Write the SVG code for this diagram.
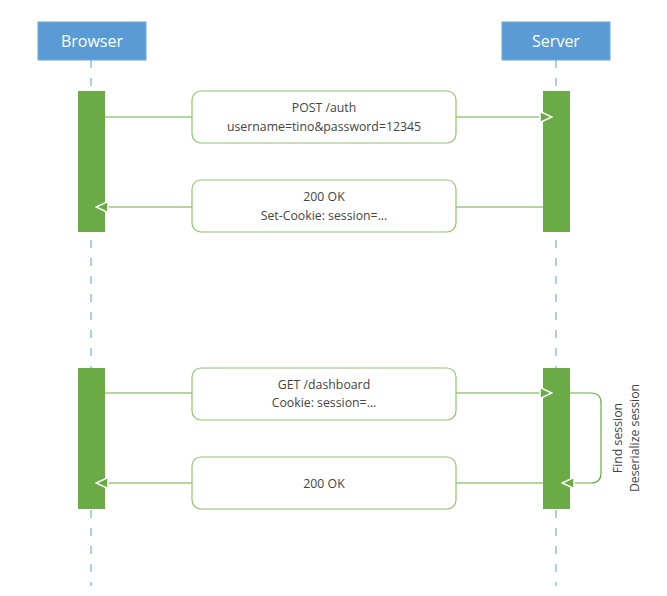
<svg xmlns="http://www.w3.org/2000/svg" width="667" height="596" viewBox="0 0 667 596">
<defs>
<style>
.hdr{fill:#5b9bd5;stroke:#6fa8dc;stroke-width:1}
.hdrt{fill:#ffffff;font-family:"Open Sans","Noto Sans",sans-serif;font-size:16px;text-anchor:middle}
.life{stroke:#5b9bd5;stroke-width:1;stroke-dasharray:8 10;fill:none}
.act{fill:#6aab45}
.msg{fill:#ffffff;stroke:#8cc66c;stroke-width:1.2}
.line{stroke:#6aab45;stroke-width:1.2;fill:none}
.t{fill:#444444;font-family:"Open Sans","Noto Sans",sans-serif;font-size:12.3px;text-anchor:middle}
</style>
<marker id="arr" viewBox="0 0 14 14" refX="13" refY="7" markerWidth="14" markerHeight="14" markerUnits="userSpaceOnUse" orient="auto">
<path d="M1,1.5 L13,7 L1,12.5 Z" fill="#6aab45" stroke="#ffffff" stroke-width="1.5" stroke-linejoin="miter"/>
</marker>
</defs>
<g id="lifelines">
<line class="life" x1="91" y1="60" x2="91" y2="586"/>
<line class="life" x1="556" y1="60" x2="556" y2="586"/>
</g>
<g id="browser">
<rect class="hdr" x="38" y="22" width="108" height="38"/>
<text class="hdrt" x="92" y="47">Browser</text>
</g>
<g id="server">
<rect class="hdr" x="502" y="22" width="108" height="38"/>
<text class="hdrt" x="556" y="47">Server</text>
</g>
<g id="activations">
<rect class="act" x="78" y="91" width="27" height="141"/>
<rect class="act" x="543" y="91" width="27" height="141"/>
<rect class="act" x="78" y="368" width="27" height="141"/>
<rect class="act" x="543" y="368" width="27" height="141"/>
</g>
<g id="connectors">
<line class="line" x1="105" y1="117" x2="192" y2="117"/>
<line class="line" x1="456" y1="117" x2="552" y2="117" marker-end="url(#arr)"/>
<line class="line" x1="543" y1="207" x2="456" y2="207"/>
<line class="line" x1="192" y1="207" x2="96" y2="207" marker-end="url(#arr)"/>
<line class="line" x1="105" y1="393" x2="192" y2="393"/>
<line class="line" x1="456" y1="393" x2="552" y2="393" marker-end="url(#arr)"/>
<line class="line" x1="543" y1="483" x2="456" y2="483"/>
<line class="line" x1="192" y1="483" x2="96" y2="483" marker-end="url(#arr)"/>
<path class="line" d="M570,393 H591 Q601,393 601,403 V473 Q601,483 591,483 H562" marker-end="url(#arr)"/>
</g>
<g id="msg1">
<rect class="msg" x="192" y="91" width="264" height="52" rx="9"/>
<text class="t" x="324" y="112">POST /auth</text>
<text class="t" x="324" y="131">username=tino&amp;password=12345</text>
</g>
<g id="msg2">
<rect class="msg" x="192" y="180" width="264" height="52" rx="9"/>
<text class="t" x="324" y="201">200 OK</text>
<text class="t" x="324" y="220">Set-Cookie: session=...</text>
</g>
<g id="msg3">
<rect class="msg" x="192" y="368" width="264" height="52" rx="9"/>
<text class="t" x="324" y="389">GET /dashboard</text>
<text class="t" x="324" y="407">Cookie: session=...</text>
</g>
<g id="msg4">
<rect class="msg" x="192" y="457" width="264" height="52" rx="9"/>
<text class="t" x="324" y="488">200 OK</text>
</g>
<g id="selfnote">
<text class="t" transform="translate(622,438) rotate(-90)">Find session</text>
<text class="t" transform="translate(639,438) rotate(-90)">Deserialize session</text>
</g>
</svg>
